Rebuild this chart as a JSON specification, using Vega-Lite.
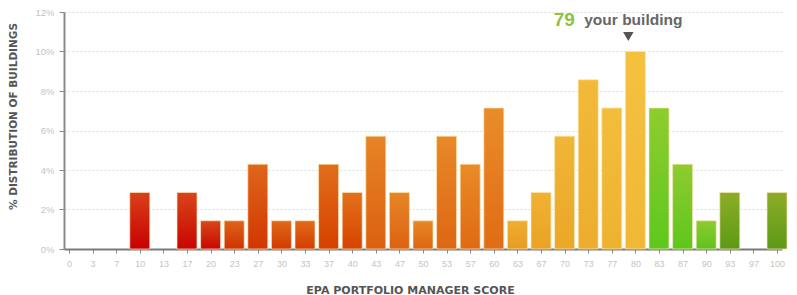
{
  "$schema": "https://vega.github.io/schema/vega-lite/v6.json",
  "width": 718,
  "height": 237,
  "autosize": "none",
  "padding": {"left": 64, "top": 12, "right": 15, "bottom": 46},
  "background": "#ffffff",
  "config": {"view": {"stroke": null}, "axis": {"labelOverlap": false, "labelFlush": false}},
  "datasets": {
    "bars": [
      {"score": 10, "pct": 0.0286},
      {"score": 16.667, "pct": 0.0286},
      {"score": 20, "pct": 0.0143},
      {"score": 23.333, "pct": 0.0143},
      {"score": 26.667, "pct": 0.0429},
      {"score": 30, "pct": 0.0143},
      {"score": 33.333, "pct": 0.0143},
      {"score": 36.667, "pct": 0.0429},
      {"score": 40, "pct": 0.0286},
      {"score": 43.333, "pct": 0.0571},
      {"score": 46.667, "pct": 0.0286},
      {"score": 50, "pct": 0.0143},
      {"score": 53.333, "pct": 0.0571},
      {"score": 56.667, "pct": 0.0429},
      {"score": 60, "pct": 0.0714},
      {"score": 63.333, "pct": 0.0143},
      {"score": 66.667, "pct": 0.0286},
      {"score": 70, "pct": 0.0571},
      {"score": 73.333, "pct": 0.0857},
      {"score": 76.667, "pct": 0.0714},
      {"score": 80, "pct": 0.1},
      {"score": 83.333, "pct": 0.0714},
      {"score": 86.667, "pct": 0.0429},
      {"score": 90, "pct": 0.0143},
      {"score": 93.333, "pct": 0.0286},
      {"score": 100, "pct": 0.0286}
    ],
    "annot": [
      {"score": 79, "pct": 0.1162, "text": "79", "kind": "score"},
      {"score": 79, "pct": 0.1162, "text": "your building", "kind": "label"},
      {"score": 79, "pct": 0.1076, "text": "", "kind": "marker"}
    ]
  },
  "layer": [
    {
      "data": {"name": "bars"},
      "mark": {"type": "bar", "size": 20, "stroke": "#fbe9c4", "strokeWidth": 1, "strokeOpacity": 0.7, "clip": false},
      "encoding": {
        "x": {
          "field": "score",
          "type": "quantitative",
          "scale": {"domain": [0, 100], "nice": false, "zero": false},
          "axis": {
            "values": [0, 3.333, 6.667, 10, 13.333, 16.667, 20, 23.333, 26.667, 30, 33.333, 36.667, 40, 43.333, 46.667, 50, 53.333, 56.667, 60, 63.333, 66.667, 70, 73.333, 76.667, 80, 83.333, 86.667, 90, 93.333, 96.667, 100],
            "tickCount": 60,
            "format": ".0f",
            "title": "EPA PORTFOLIO MANAGER SCORE",
            "titleFont": "DejaVu Sans",
            "titleFontSize": 11,
            "titleFontWeight": "bold",
            "titleColor": "#555555",
            "titleX": 346,
            "titleY": 41,
            "titleBaseline": "middle",
            "labelFont": "Liberation Sans",
            "labelFontSize": 9,
            "labelColor": "#c4c4c4",
            "labelPadding": 6,
            "labelOverlap": false,
            "labelFlush": false,
            "domainColor": "#7a7a7a",
            "domainWidth": 2,
            "tickColor": "#8a8a8a",
            "tickSize": 4,
            "grid": false
          }
        },
        "y": {
          "field": "pct",
          "type": "quantitative",
          "scale": {"domain": [0, 0.12], "nice": false},
          "axis": {
            "values": [0, 0.02, 0.04, 0.06, 0.08, 0.1, 0.12],
            "tickCount": 20,
            "format": ".0%",
            "title": "% DISTRIBUTION OF BUILDINGS",
            "titleFont": "DejaVu Sans",
            "titleFontSize": 10.5,
            "titleFontWeight": "bold",
            "titleColor": "#555555",
            "titleX": -51,
            "titleY": 104,
            "titleBaseline": "middle",
            "titleAlign": "center",
            "labelFont": "Liberation Sans",
            "labelFontSize": 9.5,
            "labelColor": "#c4c4c4",
            "labelPadding": 5,
            "labelOverlap": false,
            "domainColor": "#8a8a8a",
            "domainWidth": 2,
            "tickColor": "#8a8a8a",
            "tickSize": 5,
            "grid": true,
            "gridColor": "#dedede",
            "gridDash": [2, 2],
            "gridWidth": 1
          }
        },
        "color": {
          "field": "score",
          "type": "quantitative",
          "legend": null,
          "scale": {
            "domain": [10, 20, 23.333, 40, 43.333, 60, 63.333, 80, 83.333, 90, 93.333, 100],
            "range": ["#c80000", "#c80800", "#d03200", "#d64400", "#dc6010", "#e06c14", "#e89c20", "#f0b834", "#5ec81c", "#5ec41c", "#5c9a14", "#5c9a14"]
          }
        }
      }
    },
    {
      "data": {"name": "bars"},
      "mark": {
        "type": "bar",
        "size": 20,
        "clip": false,
        "color": {
          "gradient": "linear",
          "x1": 0, "y1": 0, "x2": 0, "y2": 1,
          "stops": [
            {"offset": 0, "color": "rgba(255,215,90,0.3)"},
            {"offset": 1, "color": "rgba(255,215,90,0)"}
          ]
        }
      },
      "encoding": {
        "x": {"field": "score", "type": "quantitative"},
        "y": {"field": "pct", "type": "quantitative"}
      }
    },
    {
      "data": {"name": "annot"},
      "transform": [{"filter": "datum.kind === 'marker'"}],
      "mark": {"type": "point", "shape": "triangle-down", "filled": true, "color": "#555555", "size": 110, "dx": -4, "opacity": 1},
      "encoding": {
        "x": {"field": "score", "type": "quantitative"},
        "y": {"field": "pct", "type": "quantitative"}
      }
    },
    {
      "data": {"name": "annot"},
      "transform": [{"filter": "datum.kind === 'score'"}],
      "mark": {"type": "text", "font": "Liberation Sans", "fontSize": 19, "fontWeight": "bold", "color": "#8cc43c", "align": "center", "baseline": "middle", "dx": -64},
      "encoding": {
        "x": {"field": "score", "type": "quantitative"},
        "y": {"field": "pct", "type": "quantitative"},
        "text": {"field": "text"}
      }
    },
    {
      "data": {"name": "annot"},
      "transform": [{"filter": "datum.kind === 'label'"}],
      "mark": {"type": "text", "font": "Liberation Sans", "fontSize": 15.5, "fontWeight": "bold", "color": "#666666", "align": "center", "baseline": "middle", "dx": 5},
      "encoding": {
        "x": {"field": "score", "type": "quantitative"},
        "y": {"field": "pct", "type": "quantitative"},
        "text": {"field": "text"}
      }
    }
  ]
}
